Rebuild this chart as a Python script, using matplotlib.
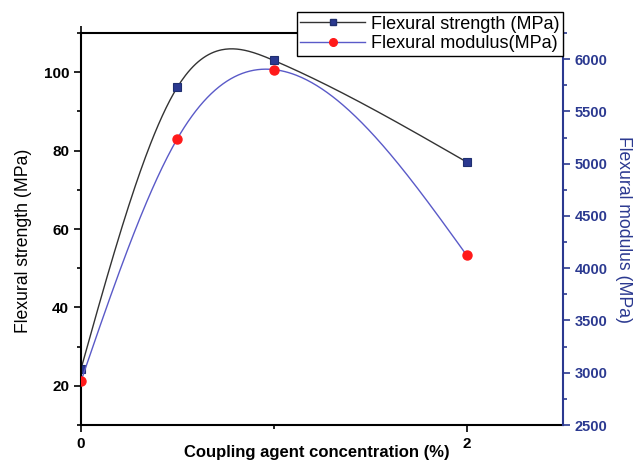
import numpy as np
import matplotlib.pyplot as plt
from matplotlib.lines import Line2D
from matplotlib.ticker import MultipleLocator

plt.rcParams['font.family'] = ['Liberation Sans', 'DejaVu Sans']

conc = [0, 0.5, 1, 2]
strength = [24.3, 96.2, 103.0, 77.1]
modulus = [2920, 5240, 5900, 4125]

navy = '#2b3990'
mod_line = '#5a5ac8'


def natural_spline(x, y, xs):
    x = np.asarray(x, float)
    y = np.asarray(y, float)
    n = len(x)
    h = np.diff(x)
    A = np.zeros((n, n))
    b = np.zeros(n)
    A[0, 0] = A[-1, -1] = 1
    for i in range(1, n - 1):
        A[i, i - 1] = h[i - 1]
        A[i, i] = 2 * (h[i - 1] + h[i])
        A[i, i + 1] = h[i]
        b[i] = 6 * ((y[i + 1] - y[i]) / h[i] - (y[i] - y[i - 1]) / h[i - 1])
    M = np.linalg.solve(A, b)
    out = np.empty_like(xs)
    for k, t in enumerate(xs):
        i = min(np.searchsorted(x, t, side='right') - 1, n - 2)
        i = max(i, 0)
        dx1 = x[i + 1] - t
        dx0 = t - x[i]
        out[k] = (M[i] * dx1 ** 3 + M[i + 1] * dx0 ** 3) / (6 * h[i]) \
            + (y[i] / h[i] - M[i] * h[i] / 6) * dx1 \
            + (y[i + 1] / h[i] - M[i + 1] * h[i] / 6) * dx0
    return out


fig = plt.figure(figsize=(6.36, 4.61), dpi=100)
ax = fig.add_axes([81 / 636, 1 - 425 / 461, (563 - 81) / 636, (425 - 33) / 461])
ax2 = ax.twinx()

xs = np.linspace(conc[0], conc[-1], 300)
ax.plot(xs, natural_spline(conc, strength, xs), color='#333333', lw=1)
ax.plot(conc, strength, 's', color=navy, ms=6, mec='#1f2f70', mew=0.8)
ax2.plot(xs, natural_spline(conc, modulus, xs), color=mod_line, lw=1)
ax2.plot(conc, modulus, 'o', color='#ff1a1a', ms=6.5, mec='#ff1a1a')

ax.set_xlim(0, 2.5)
ax.set_ylim(10, 110)
ax2.set_ylim(2500, 6250)

ax.xaxis.set_major_locator(MultipleLocator(2))
ax.xaxis.set_minor_locator(MultipleLocator(1))
ax.yaxis.set_major_locator(MultipleLocator(20))
ax.yaxis.set_minor_locator(MultipleLocator(10))
ax2.yaxis.set_major_locator(MultipleLocator(500))
ax2.yaxis.set_minor_locator(MultipleLocator(250))

ax.tick_params(axis='both', which='major', length=5, width=1.2, labelsize=11)
ax.tick_params(axis='both', which='minor', length=3, width=1.2)
ax.tick_params(axis='x', top=True, which='both', direction='out')
ax.tick_params(axis='x', which='minor', top=False)
for lab in ax.get_xticklabels() + ax.get_yticklabels():
    lab.set_fontweight('bold')

ax2.tick_params(axis='y', which='major', length=5, width=1.2, labelsize=10.5,
                colors=navy)
ax2.tick_params(axis='y', which='minor', length=3, width=1.2, colors=navy)
for lab in ax2.get_yticklabels():
    lab.set_fontweight('bold')

for s in ['left', 'bottom', 'top']:
    ax.spines[s].set_linewidth(1.5)
ax2.spines['right'].set_color(navy)
ax2.spines['right'].set_linewidth(1.5)
ax2.spines['left'].set_visible(False)
ax2.spines['top'].set_visible(False)
ax2.spines['bottom'].set_visible(False)
ax.spines['right'].set_visible(False)

ax.set_xlabel('Coupling agent concentration (%)', fontsize=12,
              fontweight='bold')
ax.xaxis.set_label_coords(0.49, -0.05)
ax.set_ylabel('Flexural strength (MPa)', fontsize=12.7)
ax.yaxis.set_label_coords(-0.101, 0.47)
ax2.set_ylabel('Flexural modulus (MPa)', fontsize=12.7, color=navy,
               rotation=270, va='bottom')
ax2.yaxis.set_label_coords(1.107, 0.5)

handles = [
    Line2D([], [], color='#333333', lw=1, marker='s', ms=5,
           mfc=navy, mec='#1f2f70'),
    Line2D([], [], color=mod_line, lw=1, marker='o', ms=5.5,
           mfc='#ff1a1a', mec='#ff1a1a'),
]
leg = fig.legend(handles, ['Flexural strength (MPa)', 'Flexural modulus(MPa)'],
                 loc='upper right', bbox_to_anchor=(563 / 636, 1 - 12 / 461),
                 borderaxespad=0, fancybox=False, framealpha=1,
                 edgecolor='black', fontsize=13, handlelength=3.6,
                 handletextpad=0.3, borderpad=0.2, labelspacing=0.15)
leg.get_frame().set_linewidth(1)

fig.savefig('out.png', dpi=100)
